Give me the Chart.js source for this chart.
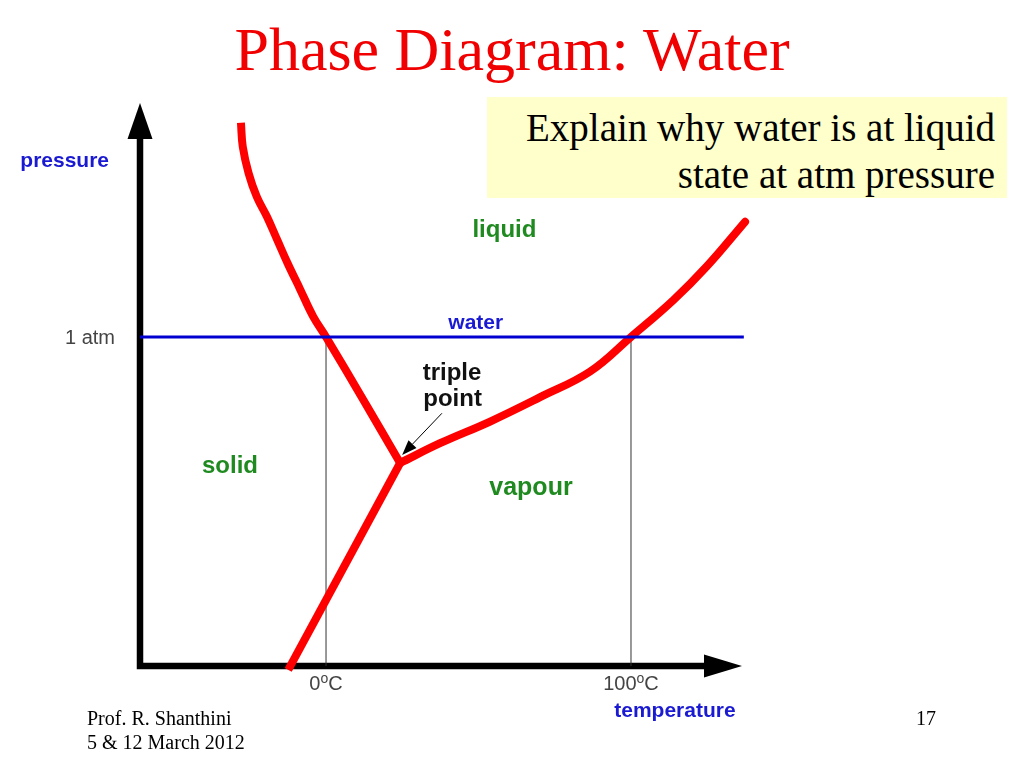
<!DOCTYPE html>
<html lang="en">
<head>
    <meta charset="UTF-8">
    <title>Phase Diagram: Water</title>
    <script src="https://cdn.jsdelivr.net/npm/chart.js"></script>
    <style>
        body { margin: 0; width: 1024px; height: 768px; background: #fff; position: relative; overflow: hidden; }
        #phase { position: absolute; left: 0; top: 0; }
        .title { position: absolute; left: 0; top: 18px; width: 1024px; text-align: center;
                 font: 62px/62px "Liberation Serif", "Times New Roman", serif; color: #f00000; }
        .note { position: absolute; left: 487px; top: 97px; width: 508px; height: 94px; padding: 7px 12px 0 0;
                background: #ffffcc; text-align: right; font: 39px/47px "Liberation Serif", "Times New Roman", serif; color: #000; }
        .foot { position: absolute; top: 706px; font: 20px/24px "Liberation Serif", "Times New Roman", serif; color: #000; }
    </style>
</head>
<body>
    <canvas id="phase" width="1024" height="768"></canvas>
    <div class="title">Phase Diagram: Water</div>
    <div class="note">Explain why water is at liquid<br>state at atm pressure</div>
    <div class="foot" style="left:87px">Prof. R. Shanthini<br>5 &amp; 12 March 2012</div>
    <div class="foot" style="left:916px">17</div>

    <script>
        // temperature in degC, pressure in atm
        const fusionT = [-27.9, -27.3, -25.4, -22.7, -19.4, -16.0, -12.6, -8.4, -4.2, 0, 12.2, 24.3];
        const fusionP = [1.651, 1.578, 1.498, 1.426, 1.366, 1.295, 1.224, 1.143, 1.062, 1.0, 0.809, 0.617];
        const sublimT = [24.3, -12.4];
        const sublimP = [0.617, -0.012];
        const vapourT = [24.3, 37.4, 53.8, 70.2, 86.6, 100, 113.9, 124.8, 137.4];
        const vapourP = [0.617, 0.677, 0.743, 0.817, 0.895, 1.0, 1.112, 1.214, 1.350];
        const atmT = [-61, 137];
        const atmP = [1, 1];
        const tickTemps = [0, 100];
        const tickLabels = ['0ºC', '100ºC'];
        const triplePoint = [24.3, 0.617];

        const green = '#1f8a1f', blue = '#1a1ad2';
        const regionLabels = [
            { text: 'liquid', t: 58.5, p: 1.305, color: green, size: 24 },
            { text: 'solid', t: -31.5, p: 0.586, color: green, size: 24 },
            { text: 'vapour', t: 67.2, p: 0.520, color: green, size: 25 },
            { text: 'water', t: 49.1, p: 1.023, color: blue, size: 21 },
            { text: 'triple', t: 41.3, p: 0.869, color: '#111', size: 24 },
            { text: 'point', t: 41.5, p: 0.789, color: '#111', size: 24 },
            { text: 'pressure', t: -85.7, p: 1.517, color: blue, size: 21 },
            { text: 'temperature', t: 114.4, p: -0.155, color: blue, size: 21 }
        ];

        const pts = (xs, ys) => xs.map((x, i) => ({ x: x, y: ys[i] }));

        const phaseDecor = {
            id: 'phaseDecor',
            beforeDatasetsDraw(chart) {
                const { ctx, chartArea: a } = chart;
                ctx.save();
                ctx.fillStyle = ctx.strokeStyle = '#000';
                ctx.lineWidth = 6.5;
                ctx.beginPath();
                ctx.moveTo(a.left, a.bottom + 3.2);
                ctx.lineTo(a.left, a.top + 34);
                ctx.moveTo(a.left - 3.2, a.bottom);
                ctx.lineTo(a.right - 36, a.bottom);
                ctx.stroke();
                ctx.beginPath();
                ctx.moveTo(a.left, a.top);
                ctx.lineTo(a.left - 12.5, a.top + 36);
                ctx.lineTo(a.left + 12.5, a.top + 36);
                ctx.closePath();
                ctx.fill();
                ctx.beginPath();
                ctx.moveTo(a.right, a.bottom);
                ctx.lineTo(a.right - 38, a.bottom - 11.5);
                ctx.lineTo(a.right - 38, a.bottom + 11.5);
                ctx.closePath();
                ctx.fill();
                ctx.restore();
            },
            afterDatasetsDraw(chart) {
                const { ctx } = chart;
                const xs = chart.scales.x, ys = chart.scales.y;
                ctx.save();
                ctx.textBaseline = 'alphabetic';
                ctx.textAlign = 'center';
                regionLabels.forEach(l => {
                    ctx.font = 'bold ' + l.size + 'px "Liberation Sans", Arial, sans-serif';
                    ctx.fillStyle = l.color;
                    ctx.fillText(l.text, xs.getPixelForValue(l.t), ys.getPixelForValue(l.p));
                });

                // 1 atm tick
                ctx.font = '20px "Liberation Sans", Arial, sans-serif';
                ctx.fillStyle = '#444';
                ctx.textAlign = 'right';
                ctx.fillText('1 atm', xs.getPixelForValue(-69.2), ys.getPixelForValue(0.979));

                // temperature ticks with raised "o"
                ctx.textAlign = 'left';
                tickTemps.forEach((t, i) => {
                    const parts = tickLabels[i].split('º');
                    const big = '20px "Liberation Sans", Arial, sans-serif';
                    const small = '14px "Liberation Sans", Arial, sans-serif';
                    ctx.font = big;
                    const w0 = ctx.measureText(parts[0]).width, w2 = ctx.measureText(parts[1]).width;
                    ctx.font = small;
                    const w1 = ctx.measureText('o').width;
                    let x = xs.getPixelForValue(t) - (w0 + w1 + w2) / 2;
                    const y = ys.getPixelForValue(-0.073);
                    ctx.font = big; ctx.fillText(parts[0], x, y); x += w0;
                    ctx.font = small; ctx.fillText('o', x, y - 7); x += w1;
                    ctx.font = big; ctx.fillText(parts[1], x, y);
                });

                // triple point pointer
                const x0 = xs.getPixelForValue(38.0), y0 = ys.getPixelForValue(0.768);
                const x1 = xs.getPixelForValue(triplePoint[0]) + 2, y1 = ys.getPixelForValue(triplePoint[1]) - 8;
                const ang = Math.atan2(y1 - y0, x1 - x0);
                const len = 15, hw = 5.5;
                const bx = x1 - len * Math.cos(ang), by = y1 - len * Math.sin(ang);
                ctx.strokeStyle = ctx.fillStyle = '#000';
                ctx.lineWidth = 1;
                ctx.beginPath();
                ctx.moveTo(x0, y0);
                ctx.lineTo(bx, by);
                ctx.stroke();
                ctx.beginPath();
                ctx.moveTo(x1, y1);
                ctx.lineTo(bx + hw * Math.sin(ang), by - hw * Math.cos(ang));
                ctx.lineTo(bx - hw * Math.sin(ang), by + hw * Math.cos(ang));
                ctx.closePath();
                ctx.fill();
                ctx.restore();
            }
        };

        const ctx = document.getElementById('phase').getContext('2d');
        new Chart(ctx, {
            type: 'line',
            data: {
                datasets: [
                    { data: pts(atmT, atmP), borderColor: '#0000d0', borderWidth: 3, clip: false },
                    { data: pts(fusionT, fusionP), borderColor: '#ff0000', borderWidth: 8, tension: 0.4, borderJoinStyle: 'round', clip: false },
                    { data: pts(sublimT, sublimP), borderColor: '#ff0000', borderWidth: 8, clip: false },
                    { data: pts(vapourT, vapourP), borderColor: '#ff0000', borderWidth: 8, tension: 0.4, borderCapStyle: 'round', clip: false },
                    { data: pts([tickTemps[0], tickTemps[0]], [0, 1]), borderColor: '#333', borderWidth: 1, clip: false },
                    { data: pts([tickTemps[1], tickTemps[1]], [0, 1]), borderColor: '#333', borderWidth: 1, clip: false }
                ]
            },
            options: {
                responsive: false,
                animation: false,
                layout: { padding: { left: 140, right: 282, top: 103, bottom: 102 } },
                elements: { point: { radius: 0, hoverRadius: 0 } },
                plugins: { legend: { display: false }, tooltip: { enabled: false } },
                scales: {
                    x: { type: 'linear', min: -61, max: 136.4, display: false },
                    y: { type: 'linear', min: 0, max: 1.711, display: false }
                }
            },
            plugins: [phaseDecor]
        });
    </script>
</body>
</html>
